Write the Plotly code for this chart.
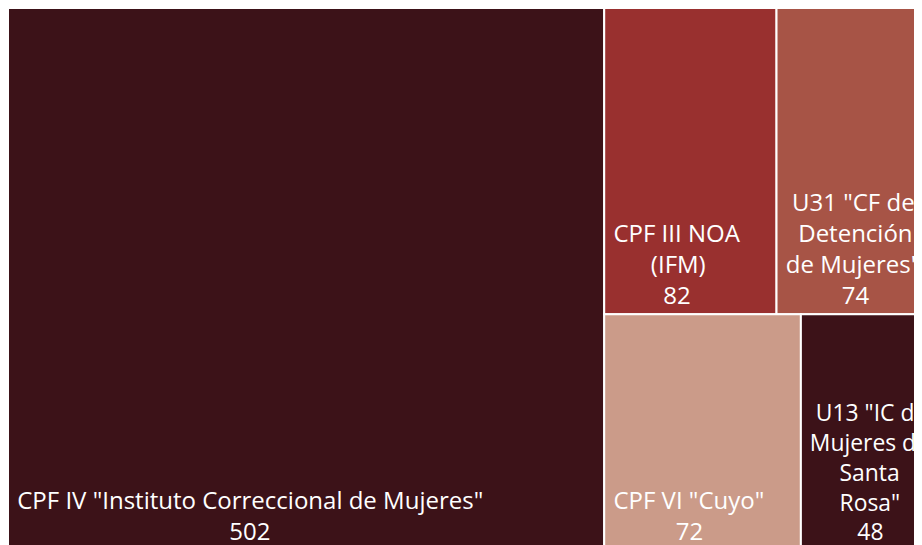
import plotly.graph_objects as go

labels = [
    'CPF IV "Instituto Correccional de Mujeres"',
    'CPF III NOA<br>(IFM)',
    'U31 "CF de<br>Detención<br>de Mujeres"',
    'CPF VI "Cuyo"',
    'U13 "IC de<br>Mujeres de<br>Santa<br>Rosa"',
]
parents = ["", "", "", "", ""]
values = [502, 82, 74, 72, 48]
colors = ["#3c1218", "#99302f", "#a75446", "#cb9b89", "#3c1218"]

# approximate Open Sans advance widths (units per em = 2048), used to centre
# the lines of each left-anchored text block
ADV = {
    " ": 532, '"': 821, "(": 608, ")": 608,
    "A": 1296, "C": 1292, "D": 1491, "F": 1067, "I": 586, "M": 1849,
    "N": 1556, "O": 1599, "P": 1198, "R": 1219, "S": 1098, "U": 1511,
    "V": 1221, "a": 1139, "c": 975, "d": 1255, "e": 1149, "i": 518,
    "j": 518, "l": 518, "m": 1905, "n": 1257, "o": 1237, "ó": 1237,
    "r": 836, "s": 977, "t": 723, "u": 1257, "y": 1032,
}
DIGIT = 1171
SPACE = 532
NBSP = "\u00a0"


def width(s):
    return sum(DIGIT if ch.isdigit() else ADV.get(ch, 1150) for ch in s)


def centred_block(label, value):
    lines = label.split("<br>") + [str(value)]
    widest = max(width(l) for l in lines)
    out = []
    for l in lines:
        n = 1 + round((widest - width(l)) / 2 / SPACE)
        out.append(NBSP * n + l)
    return "<br>".join(out)


texts = [centred_block(l, v) for l, v in zip(labels, values)]

fig = go.Figure(go.Treemap(
    labels=labels,
    parents=parents,
    values=values,
    text=texts,
    textinfo="text",
    marker=dict(colors=colors, line=dict(color="white", width=2),
                pad=dict(t=0, l=0, r=0, b=0)),
    textposition="bottom left",
    textfont=dict(family="Open Sans", size=24, color="white"),
    sort=True,
    pathbar=dict(visible=False),
    tiling=dict(pad=0),
))
fig.update_layout(
    width=924, height=542,
    margin=dict(l=0, r=0, t=0, b=0),
    paper_bgcolor="white",
    showlegend=False,
)
fig.write_html("out.html")
